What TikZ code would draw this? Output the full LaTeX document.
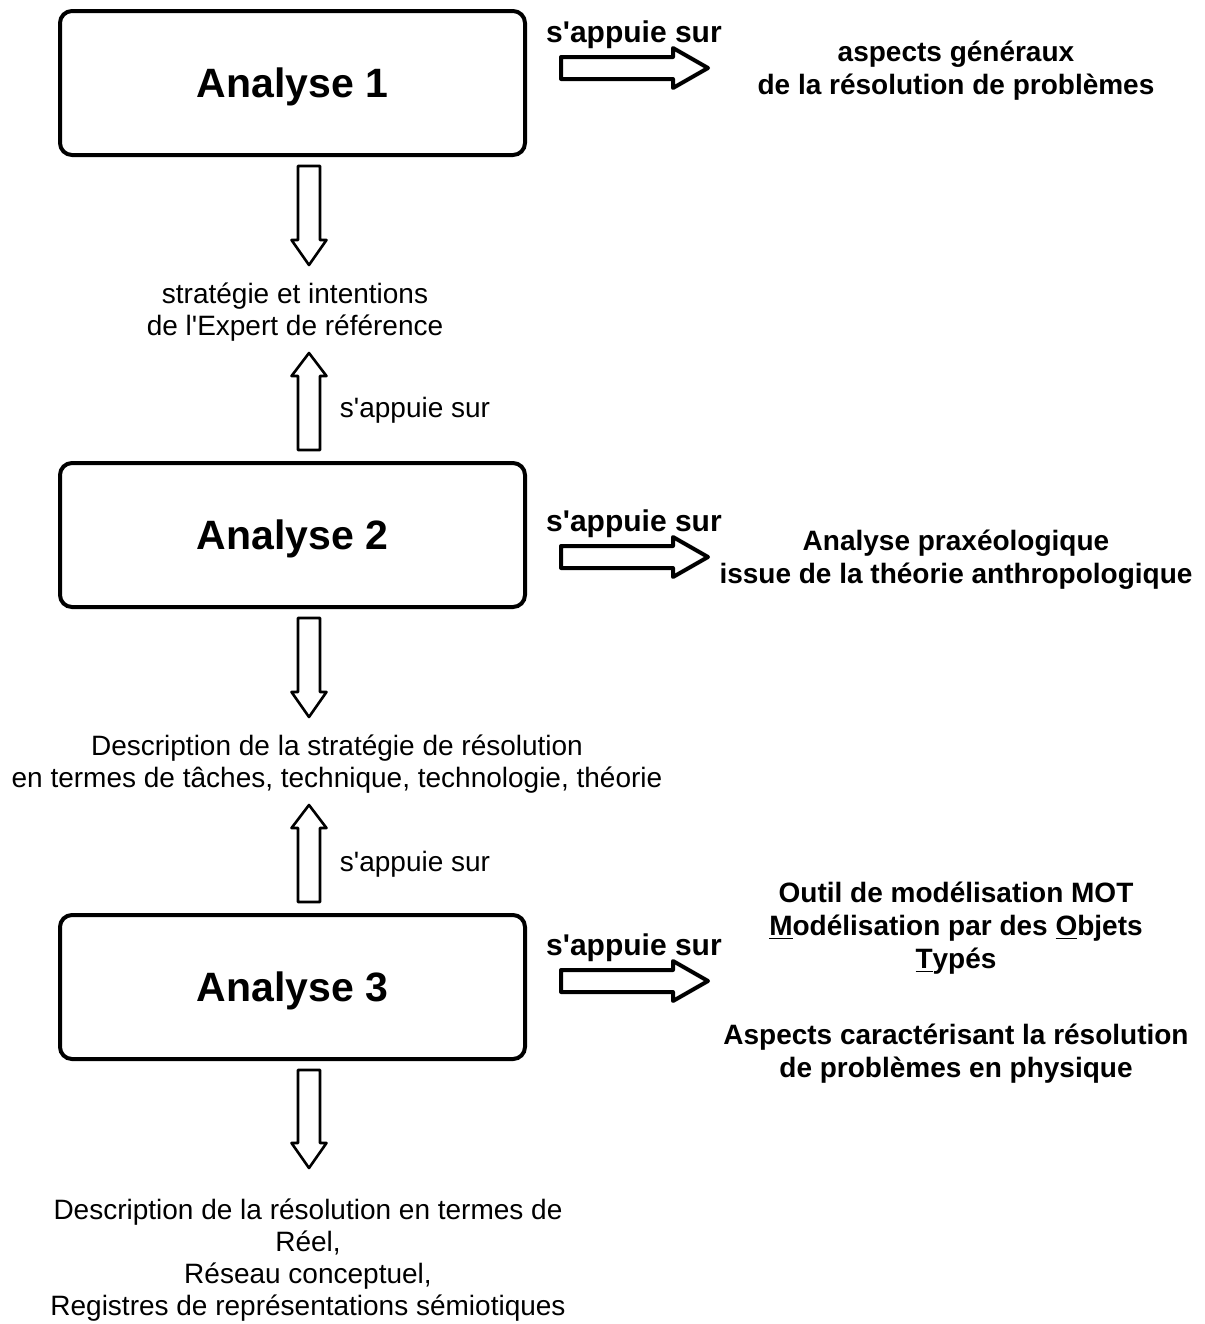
\documentclass[tikz,border=0pt]{standalone}
\usepackage{fontspec}
\setmainfont{Liberation Sans}
\usetikzlibrary{calc}
\newcommand\apos{\XeTeXglyph\XeTeXcharglyph"27\relax}
\tikzset{
  anbox/.style={draw, line width=2pt, rounded corners=6pt, minimum width=232.5pt, minimum height=72pt, text depth=0pt, font=\fontsize{20.5}{24}\selectfont\bfseries},
  regtxt/.style={align=center, font=\fontsize{14}{16}\selectfont, inner sep=0pt},
  boldlbl/.style={align=center, font=\fontsize{15}{16.5}\selectfont\bfseries, inner sep=0pt},
  boldtxt/.style={align=center, font=\fontsize{14}{16.5}\selectfont\bfseries, inner sep=0pt},
  thinarr/.style={draw, fill=white, line width=1.3pt, line join=round},
  thickarr/.style={draw, fill=white, line width=2pt, line join=round},
}
\newcommand\blkdown[2]{\path let \p1=(#1), \p2=(#2) in [thinarr]
  (\x1-5.5pt,\y1) -- (\x1+5.5pt,\y1) -- (\x1+5.5pt,\y2+12.5pt) -- (\x1+8.75pt,\y2+12.5pt) -- (\x1,\y2) -- (\x1-8.75pt,\y2+12.5pt) -- (\x1-5.5pt,\y2+12.5pt) -- cycle;}
\newcommand\blkup[2]{\path let \p1=(#1), \p2=(#2) in [thinarr]
  (\x1-5.5pt,\y1) -- (\x1+5.5pt,\y1) -- (\x1+5.5pt,\y2-11.5pt) -- (\x1+8.75pt,\y2-11.5pt) -- (\x1,\y2) -- (\x1-8.75pt,\y2-11.5pt) -- (\x1-5.5pt,\y2-11.5pt) -- cycle;}
\newcommand\blkright[2]{\path let \p1=(#1), \p2=(#2) in [thickarr]
  (\x1,\y1+5.5pt) -- (\x2-17.5pt,\y1+5.5pt) -- (\x2-17.5pt,\y1+10pt) -- (\x2,\y1) -- (\x2-17.5pt,\y1-10pt) -- (\x2-17.5pt,\y1-5.5pt) -- (\x1,\y1-5.5pt) -- cycle;}
\begin{document}
\begin{tikzpicture}[x=0.5pt,y=-0.5pt]
\useasboundingbox (0,0) rectangle (1205,1324);
% boxes
\node[anbox] (a1) at (292.5,83) {Analyse 1};
\node[anbox] (a2) at (292.5,535) {Analyse 2};
\node[anbox] (a3) at (292.5,987) {Analyse 3};
% right side
\node[boldlbl] (l1) at (634,35) {s\apos appuie sur};
\node[boldlbl] (l2) at (634,524) {s\apos appuie sur};
\node[boldlbl] (l3) at (634,948) {s\apos appuie sur};
\node[boldtxt] (r1) at (956,71) {aspects généraux\\de la résolution de problèmes};
\node[boldtxt] (r2) at (956,560) {Analyse praxéologique\\issue de la théorie anthropologique};
\node[boldtxt] (r3) at (956,928) {Outil de modélisation MOT\\\underline{M}odélisation par des \underline{O}bjets\\\underline{T}ypés};
\node[boldtxt] (r4) at (956,1054) {Aspects caractérisant la résolution\\de problèmes en physique};
% left texts
\node[regtxt] (t1) at (295,312) {stratégie et intentions\\de l\apos Expert de référence};
\node[regtxt] (t2) at (337,764) {Description de la stratégie de résolution\\en termes de tâches, technique, technologie, théorie};
\node[regtxt] (t3) at (308,1260) {Description de la résolution en termes de\\Réel,\\Réseau conceptuel,\\Registres de représentations sémiotiques};
\node[regtxt] (s1) at (415,410) {s\apos appuie sur};
\node[regtxt] (s2) at (415,864) {s\apos appuie sur};
% arrow coordinates
\coordinate (d1a) at (309,166); \coordinate (d1b) at (309,265);
\coordinate (u1a) at (309,450); \coordinate (u1b) at (309,353);
\coordinate (d2a) at (309,618); \coordinate (d2b) at (309,717);
\coordinate (u2a) at (309,902); \coordinate (u2b) at (309,805);
\coordinate (d3a) at (309,1070); \coordinate (d3b) at (309,1168);
\coordinate (h1a) at (561,68); \coordinate (h1b) at (708,68);
\coordinate (h2a) at (561,557); \coordinate (h2b) at (708,557);
\coordinate (h3a) at (561,981); \coordinate (h3b) at (708,981);
\blkdown{d1a}{d1b}
\blkup{u1a}{u1b}
\blkdown{d2a}{d2b}
\blkup{u2a}{u2b}
\blkdown{d3a}{d3b}
\blkright{h1a}{h1b}
\blkright{h2a}{h2b}
\blkright{h3a}{h3b}
\end{tikzpicture}
\end{document}
